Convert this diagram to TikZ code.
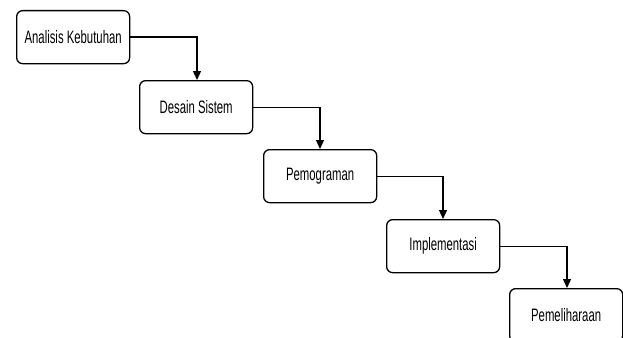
\documentclass[tikz,border=0pt]{standalone}
\usepackage{fontspec}
\setmainfont{Liberation Sans}[FakeStretch=0.63]
\usetikzlibrary{arrows.meta}
\begin{document}
\begin{tikzpicture}[x=1pt,y=-1pt,
  phase/.style={draw=black, line width=1.3pt, rounded corners=6pt, fill=white,
    minimum width=113pt, minimum height=53pt, inner sep=0pt, anchor=north west,
    font=\fontsize{18}{20}\selectfont},
  flow/.style={draw=black, line width=1.3pt, -{Triangle[length=9pt,width=8pt]}}]
\useasboundingbox (0,0) rectangle (623,337);
\clip (0,0) rectangle (623,337);
\node[phase] (a) at (16,10) {Analisis Kebutuhan};
\node[phase] (b) at (139,80) {Desain Sistem};
\node[phase] (c) at (263,149) {Pemograman};
\node[phase] (d) at (386,219) {Implementasi};
\node[phase] (e) at (509,288) {Pemeliharaan};
\draw[flow] (a.east) -| (b.north -| 197,0);
\draw[flow] (b.east) -| (c.north -| 320,0);
\draw[flow] (c.east) -| (d.north -| 443,0);
\draw[flow] (d.east) -| (e.north -| 567,0);
\end{tikzpicture}
\end{document}
